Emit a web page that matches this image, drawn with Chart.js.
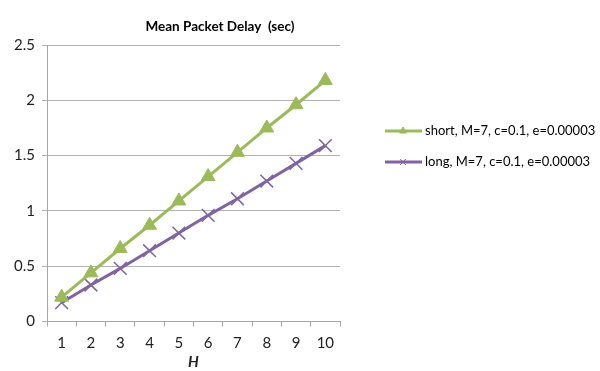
<!DOCTYPE html>
<html>
<head>
<meta charset="utf-8">
<script src="https://cdn.jsdelivr.net/npm/chart.js@4.4.0/dist/chart.umd.min.js"></script>
<style>
  html, body { margin: 0; padding: 0; background: #fff; }
  #wrap { width: 600px; height: 371px; }
</style>
</head>
<body>
<div id="wrap"><canvas id="chart" width="600" height="371"></canvas></div>
<script>
// Datos de la gráfica
const categories = ['1', '2', '3', '4', '5', '6', '7', '8', '9', '10'];
const shortValues = [0.22, 0.44, 0.66, 0.87, 1.09, 1.31, 1.53, 1.75, 1.96, 2.18];
const longValues = [0.17, 0.33, 0.48, 0.64, 0.80, 0.96, 1.11, 1.27, 1.43, 1.59];
const seriesLabels = ['short, M=7, c=0.1, e=0.00003', 'long, M=7, c=0.1, e=0.00003'];
const chartTitle = 'Mean Packet Delay  (sec)';
const xTitle = 'H';

const GREEN = '#9BBB59';
const PURPLE = '#8064A2';
const FONT = 'Lato, "Open Sans", sans-serif';

// Título y leyenda dibujados a mano
const titleLegendPlugin = {
    id: 'titleLegend',
    afterDraw(chart) {
        const ctx = chart.ctx;
        ctx.save();
        ctx.fillStyle = '#000';
        ctx.font = 'bold 13.5px ' + FONT;
        ctx.textAlign = 'center';
        ctx.textBaseline = 'middle';
        ctx.fillText(chartTitle, 220, 27);

        ctx.font = '13px ' + FONT;
        ctx.textAlign = 'left';
        chart.data.datasets.forEach((ds, i) => {
            const y = 131 + i * 31;
            ctx.strokeStyle = ds.borderColor;
            ctx.lineWidth = 3;
            ctx.beginPath();
            ctx.moveTo(385, y);
            ctx.lineTo(422, y);
            ctx.stroke();
            ctx.fillStyle = ds.pointBackgroundColor;
            ctx.strokeStyle = ds.pointBorderColor;
            ctx.lineWidth = 1;
            Chart.helpers.drawPoint(ctx, { pointStyle: ds.pointStyle, radius: 4, borderWidth: 1 }, 403, y);
            ctx.fillStyle = '#000';
            ctx.fillText(ds.label, 425, y);
        });
        ctx.restore();
    }
};

const ctx = document.getElementById('chart').getContext('2d');
new Chart(ctx, {
    type: 'line',
    data: {
        labels: categories,
        datasets: [{
            label: seriesLabels[0],
            data: shortValues,
            borderColor: GREEN,
            backgroundColor: GREEN,
            pointBackgroundColor: GREEN,
            pointBorderColor: GREEN,
            borderWidth: 3,
            pointStyle: 'triangle',
            pointRadius: 8,
            pointBorderWidth: 1,
            tension: 0
        }, {
            label: seriesLabels[1],
            data: longValues,
            borderColor: PURPLE,
            backgroundColor: PURPLE,
            pointBackgroundColor: PURPLE,
            pointBorderColor: PURPLE,
            borderWidth: 3,
            pointStyle: 'crossRot',
            pointRadius: 9,
            pointBorderWidth: 1.5,
            tension: 0
        }]
    },
    options: {
        responsive: false,
        animation: false,
        layout: { padding: { top: 45, right: 260, left: 0, bottom: 0 } },
        plugins: {
            legend: { display: false },
            title: { display: false },
            tooltip: { enabled: false }
        },
        scales: {
            x: {
                offset: true,
                afterFit: (scale) => { scale.height = 49.5; },
                grid: {
                    offset: true,
                    drawOnChartArea: false,
                    drawTicks: true,
                    tickLength: 5,
                    color: '#a6a6a6'
                },
                border: { color: '#a6a6a6', width: 1 },
                ticks: {
                    color: '#222',
                    padding: 8,
                    maxRotation: 0,
                    font: { family: FONT, size: 15 }
                },
                title: {
                    display: true,
                    text: xTitle,
                    color: '#222',
                    padding: { top: 0, bottom: 0 },
                    font: { family: FONT, size: 15, weight: 'bold', style: 'italic' }
                }
            },
            y: {
                min: 0,
                max: 2.5,
                afterFit: (scale) => { scale.width = 47; },
                grid: {
                    color: '#b3b3b3',
                    tickLength: 5
                },
                border: { color: '#a6a6a6', width: 1 },
                ticks: {
                    stepSize: 0.5,
                    color: '#222',
                    padding: 7,
                    font: { family: FONT, size: 15 },
                    callback: (v) => String(v)
                }
            }
        }
    },
    plugins: [titleLegendPlugin]
});
</script>
</body>
</html>
